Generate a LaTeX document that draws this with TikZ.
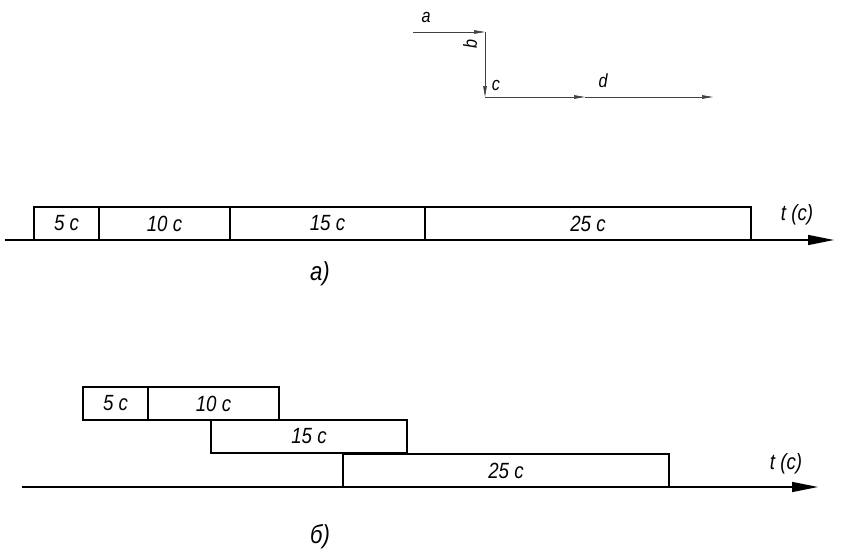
\documentclass[tikz,border=0pt]{standalone}
\usepackage{fontspec}
\setmainfont{Liberation Sans}
\newfontfamily\gostfont{Liberation Sans}[FakeStretch=0.85]
\usepackage{tikz}
\usetikzlibrary{positioning, arrows.meta}

\begin{document}
\begin{tikzpicture}[
            x=1pt, y=-1pt,
            node distance=0pt,
            seg/.style={draw, line width=1.1pt, outer sep=0pt, minimum height=33pt, inner sep=0pt, font=\gostfont\fontsize{22}{23}\selectfont\itshape},
            lbl/.style={font=\gostfont\fontsize{22}{23}\selectfont\itshape, inner sep=1pt},
            caption/.style={font=\gostfont\fontsize{26}{27}\selectfont\itshape, inner sep=1pt},
            small/.style={font=\gostfont\fontsize{19}{20}\selectfont\itshape, inner sep=1pt},
            axis/.style={line width=1.1pt, -{Triangle[length=26pt, width=10pt]}},
            flow/.style={line width=0.6pt, black!75, -{Triangle[length=11pt, width=3.6pt]}}
        ]
            \useasboundingbox (0,0) rectangle (847,557);

            % scheme of the sequence
            \coordinate (a0) at (413,32);
            \coordinate (b0) at (485,32);
            \coordinate (c0) at (485,97);
            \coordinate (d0) at (585,97);
            \coordinate (d1) at (713,97);
            \draw[flow] (a0) -- (b0);
            \draw[flow] (b0) -- (c0);
            \draw[flow] (c0) -- (d0);
            \draw[flow] (d0) -- (d1);
            \node[small] (la) at (426,17) {a};
            \node[small, rotate=90] (lb) at (470,44) {b};
            \node[small] (lc) at (496,85) {c};
            \node[small] (ld) at (603,81) {d};

            % a) one after another
            \coordinate (ta0) at (5,240);
            \coordinate (ta1) at (834,240);
            \draw[axis] (ta0) -- (ta1);
            \node[seg, minimum width=65pt, anchor=south west] (a5) at (34,240) {5 с};
            \node[seg, minimum width=131pt, right=of a5] (a10) {10 с};
            \node[seg, minimum width=195pt, right=of a10] (a15) {15 с};
            \node[seg, minimum width=326pt, right=of a15] (a25) {25 с};
            \node[lbl] (ta) at (797,215) {t (с)};
            \node[caption] (capa) at (320,274) {а)};

            % b) overlapping
            \coordinate (tb0) at (22,487);
            \coordinate (tb1) at (818,487);
            \draw[axis] (tb0) -- (tb1);
            \node[seg, minimum width=65pt, anchor=south west] (b5) at (83,420) {5 с};
            \node[seg, minimum width=131pt, right=of b5] (b10) {10 с};
            \node[seg, minimum width=196pt, anchor=south west] (b15) at (211,453) {15 с};
            \node[seg, minimum width=326pt, anchor=south west] (b25) at (343,487) {25 с};
            \node[lbl] (tb) at (786,464) {t (с)};
            \node[caption] (capb) at (320,537) {б)};

        \end{tikzpicture}
\end{document}
